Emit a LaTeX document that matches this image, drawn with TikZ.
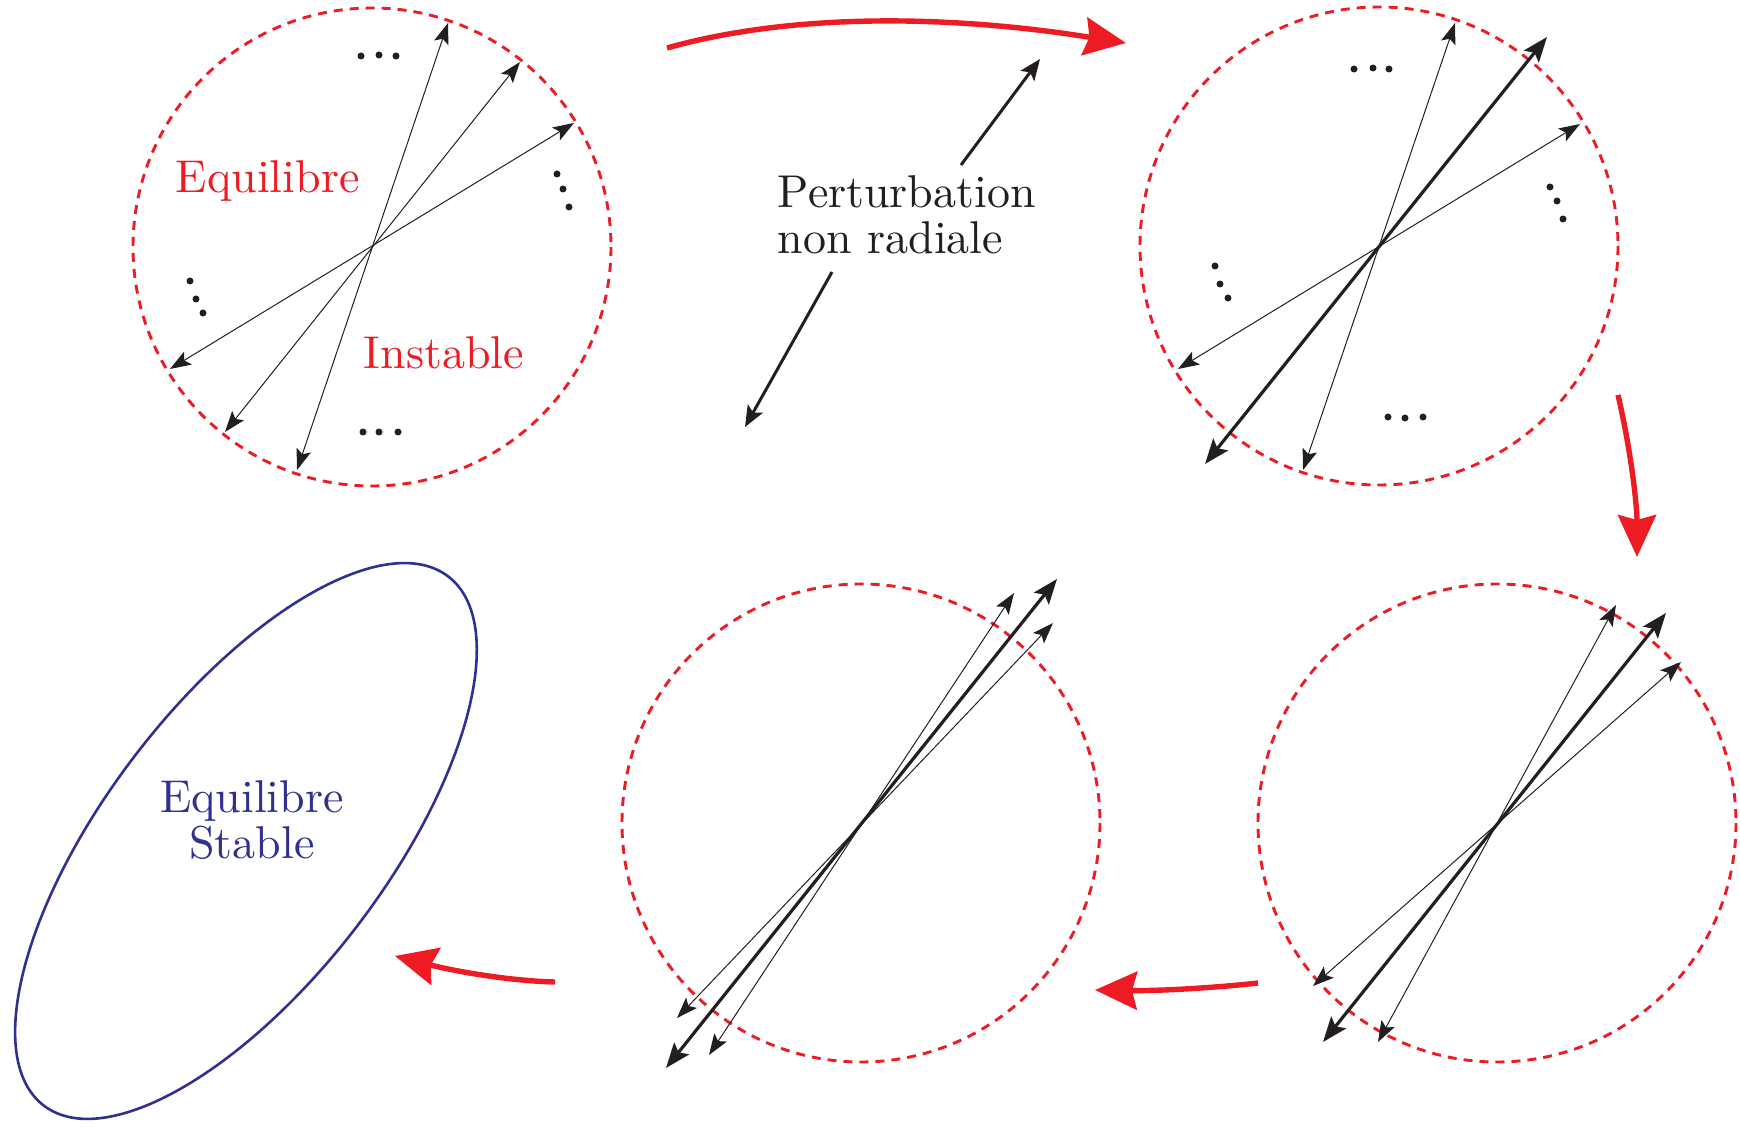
\documentclass[tikz,border=0pt]{standalone}
\usetikzlibrary{arrows.meta,calc}
\definecolor{rd}{HTML}{ED1C24}
\definecolor{bl}{HTML}{2E3192}
\definecolor{blk}{HTML}{231F20}
\begin{document}
\begin{tikzpicture}[x=0.5pt,y=-0.5pt,
  font=\fontsize{10}{10}\selectfont,
  ring/.style={draw=rd, line width=1.45pt, dash pattern=on 4.5pt off 3.5pt},
  thinarr/.style={draw=blk, line width=0.5pt, {Stealth[length=10.5pt,width=7.5pt,inset=2.2pt]}-{Stealth[length=10.5pt,width=7.5pt,inset=2.2pt]}},
  thickarr/.style={draw=blk, line width=1.6pt, {Stealth[length=12.5pt,width=9.5pt,inset=2.5pt]}-{Stealth[length=12.5pt,width=9.5pt,inset=2.5pt]}},
  pertarr/.style={draw=blk, line width=1.5pt, -{Stealth[length=10.5pt,width=8.5pt,inset=2.2pt]}},
  flow/.style={draw=rd, line width=2.7pt, -{Stealth[length=21pt,width=19pt,inset=2.5pt]}},
  dotmark/.style={fill=blk},
  lbl/.style={inner sep=0pt, scale=2.3}
]
\useasboundingbox (0,0) rectangle (1740,1128);

% centres
\coordinate (c1) at (372,247);
\coordinate (c2) at (1379,246);
\coordinate (c3) at (861,823);
\coordinate (c4) at (1497,823);

% circles
\draw[ring] (c1) circle[radius=239];
\draw[ring] (c2) circle[radius=239];
\draw[ring] (c3) circle[radius=239];
\draw[ring] (c4) circle[radius=239];

% circle 1 arrows
\draw[thinarr] ($(c1)+(-75,223)$) -- ($(c1)+(76,-224)$);
\draw[thinarr] ($(c1)+(-147,185)$) -- ($(c1)+(148,-185)$);
\draw[thinarr] ($(c1)+(-202,122)$) -- ($(c1)+(202,-124)$);

% circle 2 arrows
\draw[thinarr] ($(c2)+(-76,224)$) -- ($(c2)+(76,-223)$);
\draw[thinarr] ($(c2)+(-201,123)$) -- ($(c2)+(201,-122)$);
\draw[thickarr] ($(c2)+(-174,218)$) -- ($(c2)+(168,-209)$);

% circle 3 arrows
\draw[thinarr] ($(c3)+(-152,232)$) -- ($(c3)+(153,-230)$);
\draw[thinarr] ($(c3)+(-184,195)$) -- ($(c3)+(192,-200)$);
\draw[thickarr] ($(c3)+(-195,245)$) -- ($(c3)+(196,-244)$);

% circle 4 arrows
\draw[thinarr] ($(c4)+(-119,219)$) -- ($(c4)+(119,-218)$);
\draw[thinarr] ($(c4)+(-184,163)$) -- ($(c4)+(184,-161)$);
\draw[thickarr] ($(c4)+(-174,219)$) -- ($(c4)+(169,-210)$);

% dots circle 1
\foreach \p in {(361,56),(379,55),(396,56),(363,432),(379,432),(398,432),
  (557,174),(563,189),(569,207),(190,281),(196,299),(203,313)}
  \fill[dotmark] \p circle[radius=3.5];
% dots circle 2
\foreach \p in {(1354,69),(1373,68),(1389,69),(1388,417),(1405,418),(1423,417),
  (1550,187),(1557,201),(1563,219),(1215,266),(1220,284),(1228,298)}
  \fill[dotmark] \p circle[radius=3.5];

% labels
\node[lbl, text=rd, anchor=base west] (eq1) at (175,193) {Equilibre};
\node[lbl, text=rd, anchor=base west] (inst) at (363,369) {Instable};
\node[lbl, text=blk, anchor=north west, align=left] (pert) at (777,175) {Perturbation\\non radiale};

% perturbation arrows
\coordinate (pua) at (961,165);
\coordinate (pub) at (1040,59);
\coordinate (pla) at (832,272);
\coordinate (plb) at (745,427);
\draw[pertarr] (pua) -- (pub);
\draw[pertarr] (pla) -- (plb);

% stable ellipse
\coordinate (ce) at (246,841);
\draw[draw=bl, line width=1.3pt, rotate around={52.6:(ce)}] (ce) ellipse[x radius=333, y radius=140];
\node[lbl, text=bl, anchor=north, align=center] (stab) at (252,780) {Equilibre\\Stable};

% red flow arrows
\coordinate (f1a) at (667,48);
\coordinate (f1b) at (1126,43);
\draw[flow] (f1a) .. controls (784,15) and (937,13) .. (f1b);
\coordinate (f2a) at (1618,395);
\coordinate (f2b) at (1637,557);
\draw[flow] (f2a) .. controls (1631,451) and (1637,505) .. (f2b);
\coordinate (f3a) at (1258,983);
\coordinate (f3b) at (1095,990);
\draw[flow] (f3a) .. controls (1213,988) and (1158,991) .. (f3b);
\coordinate (f4a) at (555,982);
\coordinate (f4b) at (395,956);
\draw[flow] (f4a) .. controls (512,981) and (458,972) .. (f4b);
\end{tikzpicture}
\end{document}
